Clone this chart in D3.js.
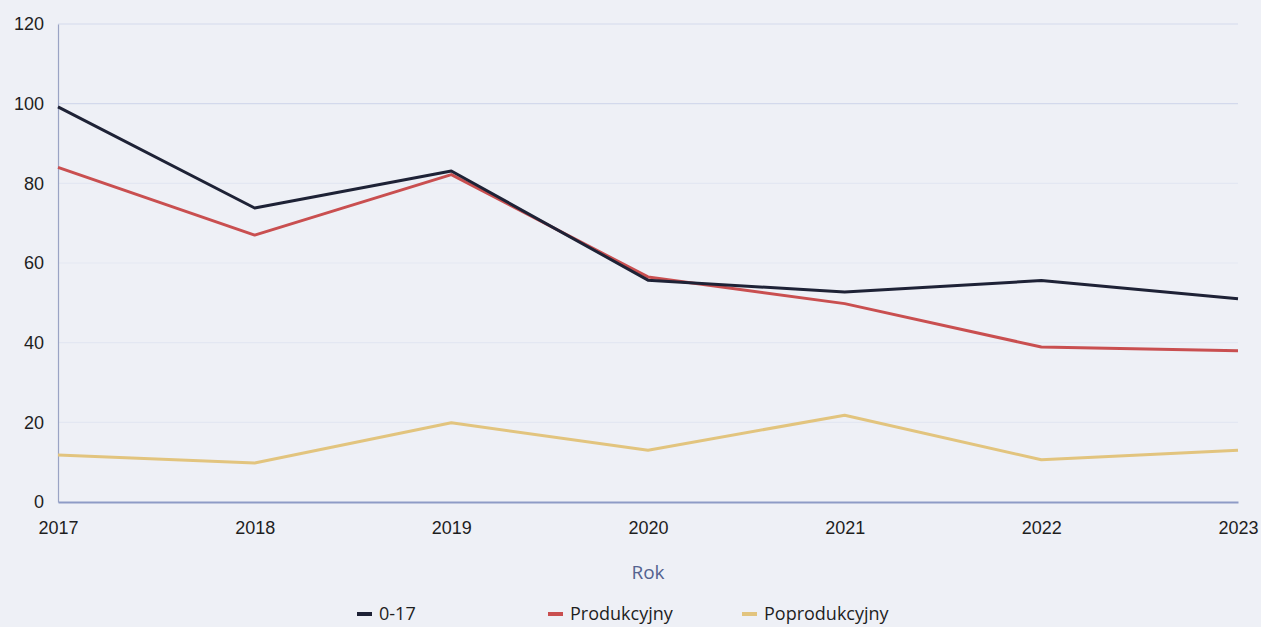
<!DOCTYPE html>
<html><head><meta charset="utf-8">
<script src="https://cdn.jsdelivr.net/npm/d3@7"></script>
<style>
html,body{margin:0;padding:0;background:#eef0f6;}
svg{display:block;font-family:"Open Sans","Noto Sans",sans-serif;}
</style></head>
<body><svg id="c" width="1261" height="627"></svg>
<script>
const years = [2017, 2018, 2019, 2020, 2021, 2022, 2023];
const s017 = [99.2, 73.8, 83.1, 55.7, 52.7, 55.6, 51.0];
const sProd = [84.0, 67.0, 82.2, 56.5, 49.8, 38.9, 38.0];
const sPoprod = [11.8, 9.8, 19.9, 13.0, 21.8, 10.6, 13.0];
const yTicks = [0, 20, 40, 60, 80, 100, 120];
const seriesNames = ["0-17", "Produkcyjny", "Poprodukcyjny"];
const seriesColors = ["#1e2236", "#c94f50", "#e2c47e"];

const svg = d3.select("#c");
const x = d3.scalePoint().domain(years).range([58, 1238]);
const y = d3.scaleLinear().domain([0, 120]).range([502, 24]);

// gridlines
svg.append("g").selectAll("line").data(yTicks.filter(d => d > 0)).join("line")
  .attr("x1", 58).attr("x2", 1238)
  .attr("y1", d => y(d)).attr("y2", d => y(d))
  .attr("stroke", d => d >= 100 ? "#d3d9ec" : "#e3e7f2").attr("stroke-width", 1.2);

// y axis
const ya = svg.append("g").attr("transform", "translate(58,0)")
  .call(d3.axisLeft(y).tickValues(yTicks).tickSize(0).tickPadding(14));
ya.select(".domain").attr("stroke", "#9aa3c4").attr("stroke-width", 1.2);
ya.selectAll("text").attr("font-size", 18).attr("fill", "#1e1e1e");

// x axis
const xa = svg.append("g").attr("transform", "translate(0,502)")
  .call(d3.axisBottom(x).tickFormat(d3.format("d")).tickSize(0).tickPadding(19));
xa.select(".domain").attr("stroke", "#8e9bc6").attr("stroke-width", 2);
xa.selectAll("text").attr("font-size", 18).attr("fill", "#1e1e1e");

svg.append("text").attr("x", 648).attr("y", 579).attr("text-anchor", "middle")
  .attr("font-size", 19).attr("fill", "#54628f").text("Rok");

const line = d3.line().x((d, i) => x(years[i])).y(d => y(d));
const data = [sPoprod, sProd, s017];
const cols = [seriesColors[2], seriesColors[1], seriesColors[0]];
data.forEach((s, k) => {
  svg.append("path").datum(s).attr("d", line).attr("fill", "none")
    .attr("stroke", cols[k]).attr("stroke-width", 3).attr("stroke-linejoin", "round");
});

// legend
const legX = [357, 548, 742];
const lg = svg.append("g").selectAll("g").data(seriesNames).join("g")
  .attr("transform", (d, i) => `translate(${legX[i]},614)`);
lg.append("line").attr("x1", 0).attr("x2", 15).attr("y1", 0).attr("y2", 0)
  .attr("stroke", (d, i) => seriesColors[i]).attr("stroke-width", 4);
lg.append("text").attr("x", 22).attr("y", 0).attr("dy", "0.35em")
  .attr("font-size", 18).attr("fill", "#1e1e1e").text(d => d);
</script></body></html>
